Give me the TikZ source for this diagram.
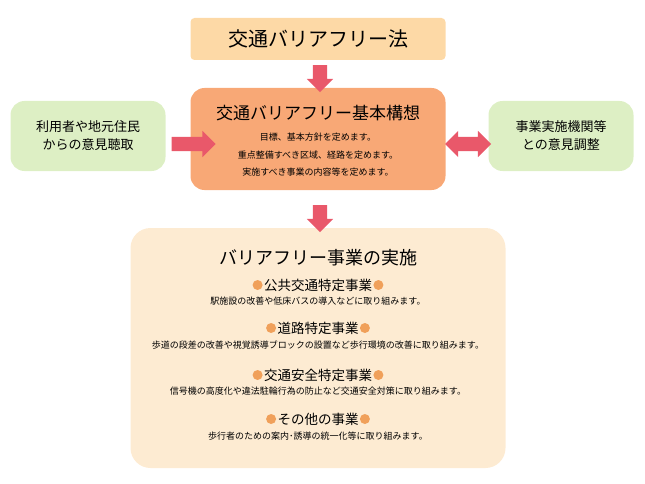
\documentclass[tikz,border=0pt]{standalone}
\usepackage{fontspec}
\setmainfont{Noto Sans CJK JP}
\usetikzlibrary{positioning,shapes.arrows}
\definecolor{lawfill}{HTML}{FDD9A6}
\definecolor{planfill}{HTML}{F8A876}
\definecolor{greenfill}{HTML}{DDEFC4}
\definecolor{workfill}{HTML}{FDEBD2}
\definecolor{arrowpink}{HTML}{E9586A}
\definecolor{dotorange}{HTML}{F0A05A}
\begin{document}
\begin{tikzpicture}[x=1pt,y=-1pt,
softbox/.style={
    rectangle,
    rounded corners=14pt,
    draw=none,
    align=center,
    inner sep=0pt},
fatarrow/.style={
    single arrow,
    fill=arrowpink,
    draw=none,
    minimum width=26pt,
    single arrow head extend=6pt,
    single arrow tip angle=90,
    inner sep=7pt},
twoarrow/.style={
    double arrow,
    fill=arrowpink,
    draw=none,
    minimum width=26pt,
    double arrow head extend=6pt,
    double arrow tip angle=90,
    inner sep=7pt},
dot/.style={circle, fill=dotorange, minimum size=10pt, inner sep=0pt},
head/.style={inner sep=1pt, font=\fontsize{13.5}{15}\selectfont},
desc/.style={font=\fontsize{9}{10}\selectfont}
]
\useasboundingbox (0,0) rectangle (645,484);

% top: the law
\node (law) [softbox, fill=lawfill, minimum width=255pt, minimum height=42pt, rounded corners=4pt,
    font=\fontsize{20}{22}\selectfont] at (318,39) {交通バリアフリー法};

% middle row
\node (plan) [softbox, fill=planfill, minimum width=255pt, minimum height=102pt] at (318,139) {};
\node at (318,113) [font=\fontsize{17}{19}\selectfont] {交通バリアフリー基本構想};
\node at (318,137) [desc] {目標、基本方針を定めます。};
\node at (318,155) [desc] {重点整備すべき区域、経路を定めます。};
\node at (318,172) [desc] {実施すべき事業の内容等を定めます。};

\node (users) [softbox, fill=greenfill, minimum width=155pt, minimum height=70pt,
    font=\fontsize{13}{18}\selectfont] at (88,136) {利用者や地元住民\\からの意見聴取};
\node (agencies) [softbox, fill=greenfill, minimum width=145pt, minimum height=70pt,
    font=\fontsize{13}{18}\selectfont] at (561,136) {事業実施機関等\\との意見調整};

% bottom: the works
\node (works) [softbox, fill=workfill, minimum width=375pt, minimum height=240pt, rounded corners=20pt] at (318,348) {};
\node at (318,258) [font=\fontsize{18}{20}\selectfont] {バリアフリー事業の実施};

\node (h1) at (318,285) [head] {公共交通特定事業};
\node at (318,301) [desc] {駅施設の改善や低床バスの導入などに取り組みます。};
\node (h2) at (318,328) [head] {道路特定事業};
\node at (318,345) [desc] {歩道の段差の改善や視覚誘導ブロックの設置など歩行環境の改善に取り組みます。};
\node (h3) at (318,375) [head] {交通安全特定事業};
\node at (318,391) [desc] {信号機の高度化や違法駐輪行為の防止など交通安全対策に取り組みます。};
\node (h4) at (318,419) [head] {その他の事業};
\node at (318,436) [desc] {歩行者のための案内･誘導の統一化等に取り組みます。};
\foreach \h in {h1,h2,h3,h4} {
    \node [dot, left=0pt of \h] {};
    \node [dot, right=0pt of \h] {};
}

% arrows
\node [fatarrow, shape border rotate=270, minimum height=27pt] at (320,75) {};
\node [fatarrow, shape border rotate=270, minimum height=27pt] at (320,215) {};
\node [fatarrow, minimum height=44pt] at (190,144) {};
\node [twoarrow, minimum height=46pt] at (468,144) {};

\end{tikzpicture}
\end{document}
